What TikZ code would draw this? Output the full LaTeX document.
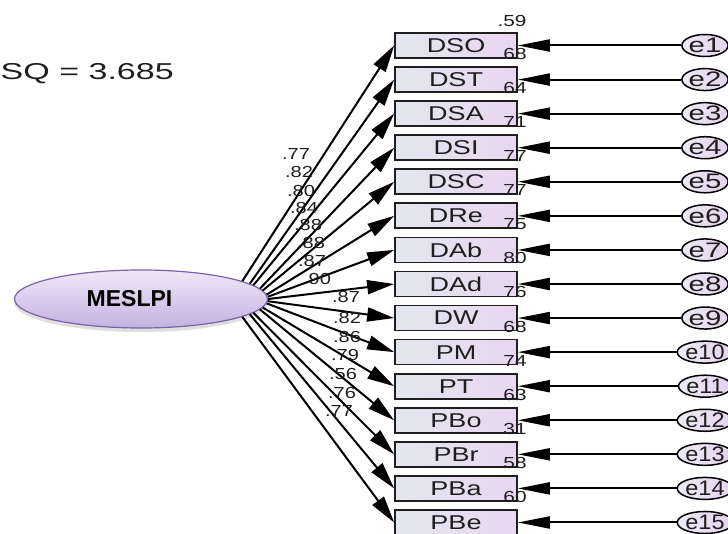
\documentclass[tikz,border=0pt]{standalone}
\usepackage{fontspec}
\setmainfont{Liberation Sans}
\usepackage{graphicx}
\usetikzlibrary{arrows.meta,shadows,calc,shapes.geometric}
\definecolor{boxL}{HTML}{E3E7EF}
\definecolor{boxR}{HTML}{E9D6F1}
\definecolor{errL}{HTML}{ECEAF4}
\definecolor{errR}{HTML}{E6D2F0}
\definecolor{latT}{HTML}{EFE8F8}
\definecolor{latB}{HTML}{C4B1DF}
\definecolor{latD}{HTML}{7B62A6}
\definecolor{txt}{HTML}{1E1E1E}
\newcommand\wtext[2][1.35]{\scalebox{#1}[1]{#2}}
\tikzset{
  boxst/.style={draw=txt, line width=1.7pt, left color=boxL, right color=boxR,
    minimum width=122pt, minimum height=25pt, inner sep=0pt,
    font=\fontsize{20}{20}\selectfont, text=txt},
  errst/.style={ellipse, draw=black, line width=1.5pt, left color=errL, right color=errR,
    minimum width=43pt, minimum height=22pt, inner sep=0pt,
    font=\fontsize{21}{21}\selectfont, text=txt},
  latst/.style={ellipse, draw=latD, line width=1.2pt, top color=latT, bottom color=latB,
    minimum width=253pt, minimum height=58pt, inner sep=0pt,
    font=\fontsize{23}{23}\selectfont\bfseries,
    drop shadow={shadow xshift=0pt, shadow yshift=-4pt, opacity=0.25}},
  lab/.style={font=\fontsize{16}{16}\selectfont, text=txt, inner sep=0pt},
  loadarrow/.style={line width=2pt, -{Triangle[length=27pt,width=14pt]}},
  errarrow/.style={line width=2pt, -{Triangle[length=32pt,width=12pt]}},
}
\begin{document}
\begin{tikzpicture}[x=1pt,y=-1pt]
\useasboundingbox (0,0) rectangle (728,534);
\node[lab, font=\fontsize{23}{23}\selectfont, anchor=east] (chi) at (174,74) {\wtext[1.48]{SQ = 3.685}};
\node[latst] (M) at (141,299) {\hspace*{-23pt}MESLPI};
\foreach \n/\l/\lx/\ly/\r [count=\k] in {
  DSO/.77/296/154/68, DST/.82/299/172/64, DSA/.80/301/191/71, DSI/.84/304/208/77,
  DSC/.88/308/225/77, DRe/.88/311/243/75, DAb/.87/312/261/80, DAd/.90/317/279/76,
  DW/.87/346/297/68, PM/.82/347/318/74, PT/.86/347/337/63, PBo/.79/345/355/31,
  PBr/.56/343/374/58, PBa/.76/342/393/60, PBe/.77/339/411/{}}{
  \pgfmathsetmacro\yy{45.5+(\k-1)*34.07}
  \pgfmathsetmacro\tt{40-(\k-1)*80/14}
  \pgfmathsetmacro\aa{atan2(29*sin(\tt),126.5*cos(\tt))}
  \pgfmathsetmacro\es{ifthenelse(\k>9,1.12,1.4)}
  \node[boxst] (b\k) at (456,\yy) {\wtext{\n}};
  \node[errst] (e\k) at (705,\yy) {\wtext[\es]{e\k}};
  \draw[errarrow] (e\k.west) -- (b\k.east);
  \draw[loadarrow] (M.\aa) -- (b\k.west);
  \node[lab] (l\k) at (\lx,\ly) {\wtext[1.25]{\l}};
  \node[lab] (r\k) at (515,\yy+8.5) {\wtext[1.3]{\r}};
}
\node[lab] (r0) at (512,21) {\wtext[1.3]{.59}};
\end{tikzpicture}
\end{document}
